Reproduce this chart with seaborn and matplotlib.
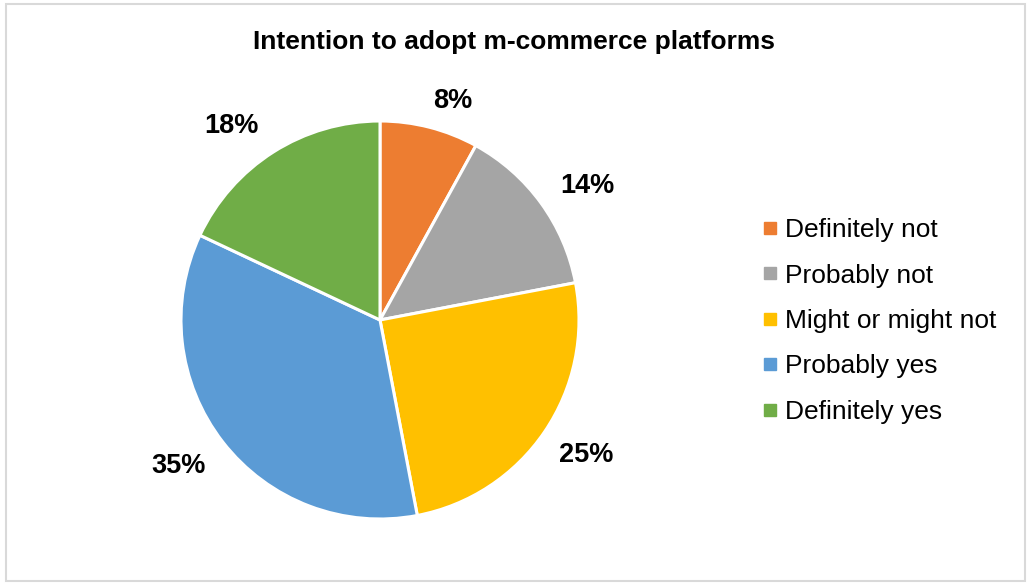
import matplotlib
matplotlib.use("Agg")
import matplotlib.pyplot as plt
from matplotlib.lines import Line2D
from matplotlib.patches import Rectangle
import numpy as np
import seaborn as sns

# Survey responses: intention to adopt m-commerce platforms (%)
categories = ["Definitely not", "Probably not", "Might or might not",
              "Probably yes", "Definitely yes"]
shares = [8, 14, 25, 35, 18]
slice_colors = ["#ED7D31", "#A5A5A5", "#FFC000", "#5B9BD5", "#70AD47"]
title = "Intention to adopt m-commerce platforms"

sns.set_theme(style="white")
plt.rcParams["font.family"] = ["Liberation Sans", "DejaVu Sans"]

W, H = 1028, 583
fig = plt.figure(figsize=(W / 100, H / 100), dpi=100)

# Light grey frame around the whole chart area
fig.patches.append(Rectangle((5.5 / W, 2.5 / H), 1019 / W, 577 / H,
                             transform=fig.transFigure, fill=False,
                             edgecolor="#D9D9D9", linewidth=1.5))

cx, cy, r = 380, 320, 199
ax = fig.add_axes([(cx - r) / W, (H - cy - r) / H, 2 * r / W, 2 * r / H])
palette = sns.color_palette(slice_colors)

wedges, _, autotexts = ax.pie(
    shares, colors=palette, startangle=90, counterclock=False,
    autopct=lambda p: f"{p:.0f}%", pctdistance=1.23,
    wedgeprops=dict(edgecolor="white", linewidth=2.2),
    textprops=dict(fontsize=19.5, fontweight="bold", color="#000000"),
    radius=1.0)

# Percentage labels sit just outside each slice; small angular nudges keep
# them clear of neighbouring wedges
label_radius = [1.16, 1.24, 1.24, 1.25, 1.23]
label_shift_deg = [-4, -3, 1, -2, 5]
for w, t, rad, dth in zip(wedges, autotexts, label_radius, label_shift_deg):
    mid = np.deg2rad((w.theta1 + w.theta2) / 2 + dth)
    t.set_position((rad * np.cos(mid), rad * np.sin(mid)))

ax.set_xlim(-1, 1)
ax.set_ylim(-1, 1)
ax.set_aspect("equal")
ax.axis("off")

fig.text(0.5, 1 - 42 / H, title, ha="center", va="center",
         fontsize=19, fontweight="bold", color="#000000")

handles = [Line2D([0], [0], marker="s", linestyle="none", markersize=8,
                  markerfacecolor=c, markeredgecolor=c) for c in slice_colors]
fig.legend(handles, categories, loc="center left",
           bbox_to_anchor=(748 / W, 1 - 321 / H), frameon=False,
           fontsize=19, labelspacing=0.81, handlelength=0.7,
           handletextpad=0.22, borderpad=0, labelcolor="#000000")

fig.savefig("out.png", dpi=100, facecolor="white")
